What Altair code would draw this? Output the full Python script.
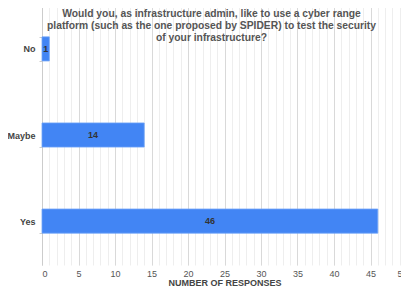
import altair as alt
import pandas as pd

categories = ["No", "Maybe", "Yes"]
responses = [1, 14, 46]
label_texts = ["1", "14", "46"]
major_ticks = list(range(0, 51, 5))
minor_ticks = list(range(0, 51, 1))
title_lines = [
    "Would you, as infrastructure admin, like to use a cyber range",
    "platform (such as the one proposed by SPIDER) to test the security",
    "of your infrastructure?",
]
x_title = "NUMBER OF RESPONSES"

df = pd.DataFrame({"cat": categories, "n": responses, "lab": label_texts})

FONT = "Liberation Sans"

yenc = alt.Y(
    "cat:N",
    sort=categories,
    scale=alt.Scale(paddingInner=0.72, paddingOuter=0.37),
    axis=alt.Axis(
        title=None,
        labelFont=FONT,
        labelFontSize=9,
        labelFontWeight="bold",
        labelColor="#444444",
        ticks=True,
        tickBand="extent",
        tickSize=3,
        tickColor="#cccccc",
        labelPadding=4,
        domainColor="#cccccc",
        grid=False,
    ),
)

xscale = alt.Scale(domain=[0, 50], nice=False, zero=True)

bars = alt.Chart(df).mark_bar(color="#4285F4", stroke="#6fa3f7", strokeWidth=0.8).encode(
    x=alt.X(
        "n:Q",
        scale=xscale,
        axis=alt.Axis(
            orient="bottom",
            values=minor_ticks,
            grid=True,
            gridColor="#eeeeee",
            labels=False,
            ticks=False,
            domain=False,
            title=None,
        ),
    ),
    y=yenc,
)

texts = (
    alt.Chart(df)
    .transform_calculate(mid="datum.n / 2")
    .mark_text(font=FONT, fontSize=9, fontWeight="bold", color="#333333")
    .encode(
        x=alt.X(
            "mid:Q",
            scale=xscale,
            axis=alt.Axis(
                orient="bottom",
                values=major_ticks,
                grid=True,
                gridColor="#d9d9d9",
                labelFont=FONT,
                labelFontSize=9,
                labelColor="#555555",
                ticks=False,
                tickSize=0,
                labelPadding=4,
                domain=False,
                title=x_title,
                titleFont=FONT,
                titleFontSize=9,
                titleFontWeight="bold",
                titleColor="#444444",
                titlePadding=0,
            ),
        ),
        y=yenc,
        text="lab:N",
    )
)

chart = (
    alt.layer(bars, texts)
    .resolve_axis(x="independent")
    .properties(
        width=365,
        height=260,
        autosize=alt.AutoSizeParams(type="none"),
        padding={"left": 34, "top": -3, "right": -6, "bottom": 21},
        title=alt.TitleParams(
            text=title_lines,
            font=FONT,
            fontSize=10.3,
            fontWeight="bold",
            color="#555555",
            anchor="middle",
            baseline="top",
            offset=-42,
            dx=-13,
            lineHeight=12,
        ),
    )
    .configure_view(stroke=None)
)

chart.save("out.html", embed_options={"renderer": "svg", "actions": False})
